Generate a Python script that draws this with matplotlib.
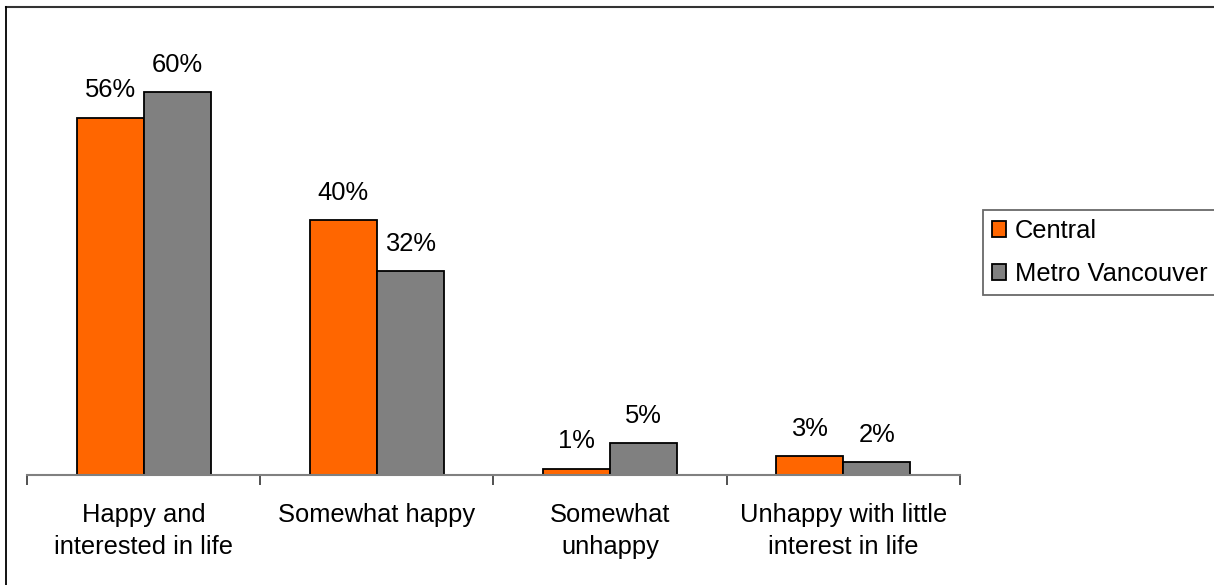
import matplotlib

matplotlib.use("Agg")

import matplotlib.pyplot as plt
from matplotlib.lines import Line2D
from matplotlib.ticker import FixedLocator

categories = [
    "Happy and\ninterested in life",
    "Somewhat happy",
    "Somewhat\nunhappy",
    "Unhappy with little\ninterest in life",
]
series_names = ["Central", "Metro Vancouver"]
central = [56, 40, 1, 3]
metro = [60, 32, 5, 2]
colors = ["#FF6600", "#808080"]

plt.rcParams["font.family"] = ["Liberation Sans", "DejaVu Sans"]

W, H = 1214, 585
FS = 18.4
fig = plt.figure(figsize=(W / 100, H / 100), dpi=100)
ax = fig.add_axes([27 / W, 1 - 475 / H, (960 - 27) / W, (475 - 28.4) / H])

bw = 0.287
centers = [i + 0.5 for i in range(len(categories))]
for values, off, color, name in zip([central, metro], [-bw / 2, bw / 2], colors, series_names):
    xs = [c + off for c in centers]
    ax.bar(xs, values, width=bw, color=color, edgecolor="black", linewidth=1.3, label=name, zorder=3)
    for x, v in zip(xs, values):
        ax.annotate(f"{v}%", (x, v), xytext=(0, 11), textcoords="offset points",
                    ha="center", va="bottom", fontsize=FS)

ax.set_xlim(0, len(categories))
ax.set_ylim(0, 70)
ax.set_yticks([])
for s in ["top", "right", "left"]:
    ax.spines[s].set_visible(False)
ax.spines["bottom"].set_color("#808080")
ax.spines["bottom"].set_linewidth(1.5)
ax.spines["bottom"].set_zorder(4)

ax.xaxis.set_major_locator(FixedLocator(range(len(categories) + 1)))
ax.set_xticklabels([])
ax.xaxis.set_minor_locator(FixedLocator(centers))
ax.set_xticklabels(categories, minor=True, fontsize=FS, linespacing=1.45)
ax.tick_params(axis="x", which="major", length=7, width=1.2, color="#333333", direction="out")
ax.tick_params(axis="x", which="minor", length=0, pad=20)

leg = fig.legend(loc="upper left", bbox_to_anchor=(983 / W, 1 - 210 / H), fontsize=FS,
                 frameon=True, fancybox=False, edgecolor="#444444", borderpad=0.35,
                 handlelength=0.55, handleheight=0.55, handletextpad=0.35,
                 labelspacing=0.75, borderaxespad=0)
leg.get_frame().set_linewidth(1.3)

fig.add_artist(Line2D([6 / W, 1213 / W], [1 - 7 / H, 1 - 7 / H], transform=fig.transFigure,
                      color="#333333", linewidth=1.5))
fig.add_artist(Line2D([6 / W, 6 / W], [0, 1 - 7 / H], transform=fig.transFigure,
                      color="black", linewidth=1.3))

fig.savefig("out.png", dpi=100)
